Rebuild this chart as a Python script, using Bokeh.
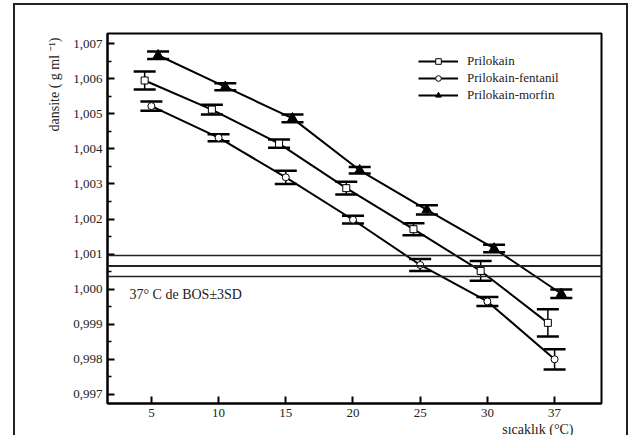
from bokeh.plotting import figure
from bokeh.models import (ColumnDataSource, Whisker, TeeHead, Span, Label, Legend, LegendItem,
                          FixedTicker, CustomJSTickFormatter, Range1d, Title)
from bokeh.embed import file_html
from bokeh.resources import INLINE

# ---------------- data ----------------
temps = ["5", "10", "15", "20", "25", "30", "37"]

prilokain = [1.00595, 1.00512, 1.00415, 1.00288, 1.00171, 1.00052, 0.99904]
prilokain_err = [0.00026, 0.00014, 0.00012, 0.00018, 0.00017, 0.00028, 0.00039]

fentanil = [1.00522, 1.00432, 1.00319, 1.00198, 1.00069, 0.99965, 0.99800]
fentanil_err = [0.00013, 0.00010, 0.00019, 0.00011, 0.00017, 0.00013, 0.00029]

morfin = [1.00667, 1.00577, 1.00487, 1.00339, 1.00226, 1.00116, 0.99987]
morfin_err = [0.00011, 0.00010, 0.00011, 0.00009, 0.00013, 0.00011, 0.00012]

bos_mean = 1.00066
bos_3sd = 0.00030

y_ticks = [0.997, 0.998, 0.999, 1.000, 1.001, 1.002, 1.003, 1.004, 1.005, 1.006, 1.007]
y_minor = [0.9975, 0.9985, 0.9995, 1.0005, 1.0015, 1.0025, 1.0035, 1.0045, 1.0055, 1.0065]

FONT = "Liberation Serif"

p = figure(width=615, height=432, output_backend="svg", toolbar_location=None,
           x_range=Range1d(-0.653, 6.698), y_range=Range1d(0.99674, 1.00729),
           min_border_left=92, min_border_top=28, min_border_right=29, min_border_bottom=34)
p.margin = (3, 0, 0, 13)
p.styles = {"border-top": "2px solid #222", "border-left": "2px solid #222",
            "border-right": "2px solid #222", "box-sizing": "border-box"}
p.grid.visible = False
p.outline_line_color = "black"
p.outline_line_width = 2
p.background_fill_color = "white"
p.border_fill_color = "white"

# axes
p.xaxis.ticker = FixedTicker(ticks=list(range(len(temps))))
p.xaxis.major_label_overrides = {i: t for i, t in enumerate(temps)}
p.yaxis.ticker = FixedTicker(ticks=y_ticks, minor_ticks=y_minor)
p.yaxis.formatter = CustomJSTickFormatter(code="return tick.toFixed(3).replace('.', ',');")
for ax in (p.xaxis, p.yaxis):
    ax.axis_line_width = 2
    ax.axis_line_color = "black"
    ax.major_tick_in = 7
    ax.major_tick_out = 0
    ax.major_tick_line_width = 2
    ax.major_tick_line_color = "black"
    ax.minor_tick_in = 4
    ax.minor_tick_out = 0
    ax.minor_tick_line_width = 1.5
    ax.major_label_text_font = FONT
    ax.major_label_text_font_size = "13px"
    ax.major_label_text_color = "#222"
    ax.major_label_standoff = 5
p.xaxis.minor_tick_line_color = None

def series(vals, errs, off):
    xs = [i + off for i in range(len(vals))]
    return ColumnDataSource(dict(x=xs, y=vals,
                                 lo=[v - e for v, e in zip(vals, errs)],
                                 hi=[v + e for v, e in zip(vals, errs)]))

src_p = series(prilokain, prilokain_err, -0.1)
src_f = series(fentanil, fentanil_err, 0.0)
src_m = series(morfin, morfin_err, 0.1)

# reference lines (BOS at 37 °C ± 3SD)
for yv, w in ((bos_mean + bos_3sd, 1.5), (bos_mean, 2.2), (bos_mean - bos_3sd, 1.5)):
    p.add_layout(Span(location=yv, dimension="width", line_color="#222", line_width=w))

renderers = []
for src, marker, size, fill in ((src_p, "square", 7, "white"),
                                (src_f, "circle", 7, "white"),
                                (src_m, "triangle", 10, "black")):
    ln = p.line("x", "y", source=src, line_color="black", line_width=2)
    wh = Whisker(base="x", lower="lo", upper="hi", source=src, dimension="height",
                 line_color="black", line_width=1.5,
                 upper_head=TeeHead(size=22, line_width=2.5, line_color="black"),
                 lower_head=TeeHead(size=22, line_width=2.5, line_color="black"))
    p.add_layout(wh)
    sc = p.scatter("x", "y", source=src, marker=marker, size=size, fill_color=fill,
                   line_color="black", line_width=1)
    renderers.append((ln, sc))

legend = Legend(items=[LegendItem(label="Prilokain", renderers=list(renderers[0])),
                       LegendItem(label="Prilokain-fentanil", renderers=list(renderers[1])),
                       LegendItem(label="Prilokain-morfin", renderers=list(renderers[2]))],
                location=(311, 300), padding=0, margin=0, spacing=0,
                glyph_width=40, glyph_height=14, label_height=17, label_standoff=9,
                label_text_font=FONT, label_text_font_size="13px", label_text_color="#222",
                border_line_color=None, background_fill_alpha=0)
p.add_layout(legend)

p.add_layout(Label(x=22, y=109, x_units="screen", y_units="screen", text="37° C de BOS±3SD",
                   text_font=FONT, text_font_size="14px", text_color="#222",
                   text_baseline="middle"))

p.add_layout(Title(text="dansite ( g ml ⁻¹)", align="right", offset=4, standoff=18,
                   text_font=FONT, text_font_size="14px", text_font_style="normal",
                   text_color="#222"), "left")
p.add_layout(Title(text="sıcaklık (°C)", align="right", offset=28, standoff=0,
                   text_font=FONT, text_font_size="14px", text_font_style="normal",
                   text_color="#222"), "below")

open("out.html", "w").write(file_html(p, INLINE))
